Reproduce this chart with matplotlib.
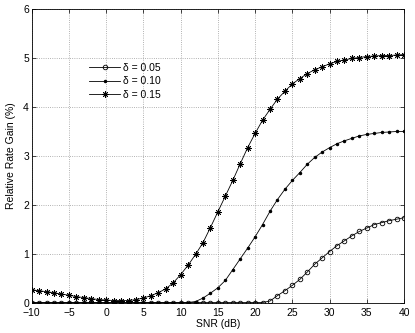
import matplotlib
matplotlib.use("Agg")
import matplotlib.pyplot as plt
import numpy as np

snr = list(range(-10, 41))

gain_005 = [0.01] * 32 + [0.04, 0.15, 0.25, 0.36, 0.48, 0.63, 0.79, 0.92, 1.05, 1.17,
                          1.27, 1.37, 1.46, 1.53, 1.60, 1.64, 1.68, 1.71, 1.74]

gain_010 = [0.01] * 21 + [0.01, 0.03, 0.10, 0.20, 0.31, 0.46, 0.68, 0.90, 1.12, 1.35,
                          1.60, 1.87, 2.11, 2.32, 2.50, 2.66, 2.83, 2.97, 3.08, 3.17,
                          3.25, 3.31, 3.36, 3.41, 3.44, 3.46, 3.48, 3.49, 3.50, 3.50]

gain_015 = [0.27, 0.25, 0.23, 0.21, 0.18, 0.16, 0.13, 0.11, 0.09, 0.07,
            0.06, 0.05, 0.05, 0.05, 0.07, 0.10, 0.15, 0.21, 0.29, 0.41,
            0.58, 0.77, 0.99, 1.23, 1.54, 1.86, 2.18, 2.50, 2.84, 3.17,
            3.46, 3.73, 3.95, 4.16, 4.32, 4.47, 4.58, 4.68, 4.76, 4.82,
            4.88, 4.93, 4.96, 4.99, 5.01, 5.03, 5.04, 5.05, 5.05, 5.06, 5.07]

labels = ["\u03b4 = 0.05", "\u03b4 = 0.10", "\u03b4 = 0.15"]

plt.rcParams['font.family'] = ['Liberation Sans', 'DejaVu Sans']

fig = plt.figure(figsize=(4.15, 3.33), dpi=100, facecolor='white')
ax = fig.add_axes([0.0764, 0.0901, 0.8971, 0.8829])

ax.plot(snr, gain_005, color='black', linewidth=0.6, marker='o', markersize=3.3,
        markerfacecolor='none', markeredgewidth=0.6, label=labels[0])
ax.plot(snr, gain_010, color='black', linewidth=0.6, marker='.', markersize=3,
        label=labels[1])
ax.plot(snr, gain_015, color='black', linewidth=0.6, marker=(8, 2, 0), markersize=4.5,
        markeredgewidth=0.6, label=labels[2])

ax.set_xlim(-10, 40)
ax.set_ylim(0, 6)
ax.set_xticks(range(-10, 41, 5))
ax.set_yticks(range(0, 7))
ax.grid(True, linestyle=':', color='#999999', linewidth=0.6)
ax.tick_params(direction='in', length=3, width=0.5, labelsize=7.5,
               top=True, right=True, pad=2)
ax.tick_params(axis='x', pad=3.5)
for s in ax.spines.values():
    s.set_linewidth(0.6)

ax.set_xlabel("SNR (dB)", fontsize=7.5, labelpad=1)
ax.set_ylabel("Relative Rate Gain (%)", fontsize=7.5, labelpad=5)

ax.legend(loc='upper left', bbox_to_anchor=(0.155, 0.818), frameon=False,
          fontsize=7.5, handlelength=2.9, numpoints=1, borderaxespad=0,
          borderpad=0, labelspacing=0.35, handletextpad=0.3)

fig.savefig("out.png", dpi=100, facecolor='white')
